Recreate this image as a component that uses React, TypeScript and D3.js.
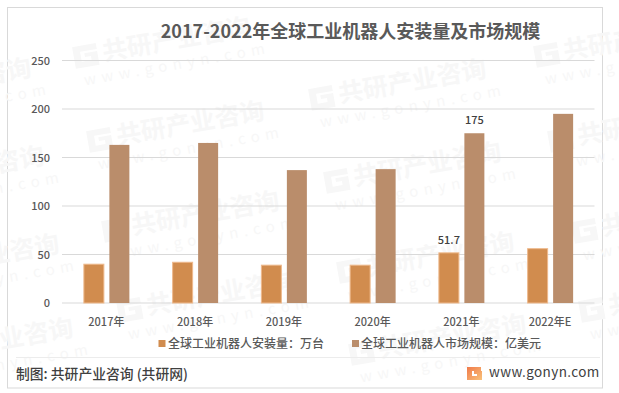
import React from "react";
import * as d3 from "d3";

const categories = ["2017年", "2018年", "2019年", "2020年", "2021年", "2022年E"];
const installs = [40, 42, 39, 39, 51.7, 56];
const market = [163, 165, 137, 138, 175, 195];
const yTicks = [0, 50, 100, 150, 200, 250];
const installLabels: Record<number, string> = { 4: "51.7" };
const marketLabels: Record<number, string> = { 4: "175" };
const watermarks: [number, number][] = [
  [-145, 99], [-132, 187], [-117, 275], [-103, 359],
  [74, 58], [88, 142], [103, 232], [118, 312],
  [310, 100], [325, 183], [338, 273], [350, 355],
  [535, 57], [549, 142], [573, 233], [580, 312],
];

const FONT = "'Noto Sans CJK SC','Noto Sans',sans-serif";
const W = 619, H = 393;

export default function App() {
  const x = d3.scaleBand<string>().domain(categories).range([62, 594.5]);
  const y = d3.scaleLinear().domain([0, 250]).range([303, 60.5]);
  const cx = (i: number) => x(categories[i])! + x.bandwidth() / 2;
  const barW = 20;
  return (
    <svg width={W} height={H} style={{ position: "absolute", left: 0, top: 0, background: "#fff", fontFamily: FONT }}>
      <defs>
        <linearGradient id="logoFill" x1="0" y1="0" x2="1" y2="1">
          <stop offset="0" stopColor="#f07a4a" />
          <stop offset="1" stopColor="#f9c27a" />
        </linearGradient>
      </defs>
      <rect x={7.5} y={7.5} width={595} height={380.5} fill="#fff" stroke="#d9d9d9" strokeWidth={1} />
      {watermarks.map(([a, b], i) => (
        <g key={i} transform={`translate(${a},${b}) rotate(-10)`} fill="#f7f7f7">
          <path d="M0,-11 h24 v6 h-17 v10 h10 v-4 h-6 v-4 h13 v14 h-24 z" />
          <text x={29} y={8} fontSize={25} fontWeight={700}>共研产业咨询</text>
          <text x={6} y={29} fontSize={15} letterSpacing={5.5}>www.gonyn.com</text>
        </g>
      ))}
      <text x={350.5} y={38} textAnchor="middle" fontSize={18} fontWeight={700} fill="#595959">
        2017-2022年全球工业机器人安装量及市场规模
      </text>
      {yTicks.map((t) => (
        <g key={t}>
          <line x1={62} x2={594.5} y1={y(t)} y2={y(t)} stroke="#d9d9d9" strokeWidth={1} />
          <text x={50} y={y(t) + 4} textAnchor="end" fontSize={11} fontWeight={500} fill="#595959">{t}</text>
        </g>
      ))}
      {categories.map((c, i) => (
        <g key={c}>
          <rect x={cx(i) - 22.5} y={y(installs[i])} width={barW} height={y(0) - y(installs[i])} fill="#d18c4e" stroke="#eeb98c" strokeWidth={1} />
          <rect x={cx(i) + 3} y={y(market[i])} width={barW} height={y(0) - y(market[i])} fill="#ba8d6b" />
          <text x={cx(i)} y={326} textAnchor="middle" fontSize={11} fontWeight={500} fill="#595959">{c}</text>
          {installLabels[i] && (
            <text x={cx(i) - 12.5} y={y(installs[i]) - 9} textAnchor="middle" fontSize={11} fontWeight={500} fill="#404040">{installLabels[i]}</text>
          )}
          {marketLabels[i] && (
            <text x={cx(i) + 13} y={y(market[i]) - 9} textAnchor="middle" fontSize={11} fontWeight={500} fill="#404040">{marketLabels[i]}</text>
          )}
        </g>
      ))}
      <rect x={158.5} y={340} width={7} height={7} fill="#d18c4e" />
      <text x={168} y={348} fontSize={12} fontWeight={500} fill="#595959">全球工业机器人安装量：万台</text>
      <rect x={352} y={340} width={7} height={7} fill="#ba8d6b" />
      <text x={361} y={348} fontSize={12} fontWeight={500} fill="#595959">全球工业机器人市场规模：亿美元</text>
      <line x1={16} x2={600} y1={357.5} y2={357.5} stroke="#ececec" strokeWidth={1} />
      <text x={16} y={379} fontSize={13.8} fontWeight={500} fill="#404040">制图: 共研产业咨询 (共研网)</text>
      <path d="M467,367 h14 v4 h-9 v5 h5 v-2 h-3 v-3 h8 v9 h-15 z" fill="url(#logoFill)" />
      <text x={489} y={377} fontSize={13.5} fill="#404040" letterSpacing={0.4}>www.gonyn.com</text>
    </svg>
  );
}
